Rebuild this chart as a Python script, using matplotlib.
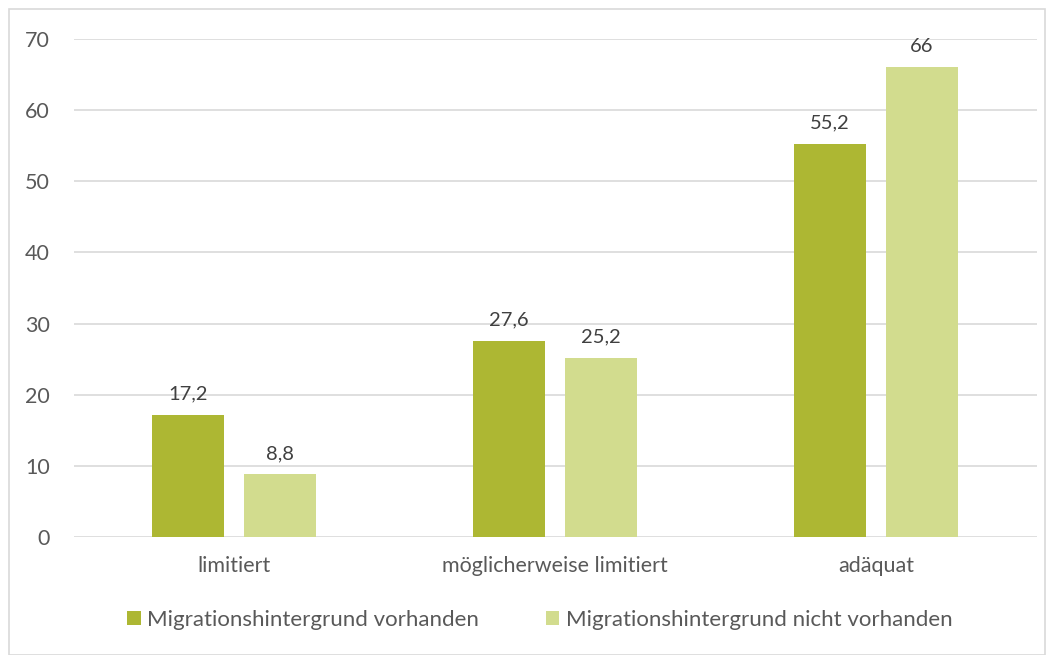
import matplotlib
matplotlib.use("Agg")
import matplotlib.pyplot as plt
import numpy as np
from matplotlib.patches import Rectangle

categories = ["limitiert", "möglicherweise limitiert", "adäquat"]
series_names = ["Migrationshintergrund vorhanden", "Migrationshintergrund nicht vorhanden"]
values_mit = [17.2, 27.6, 55.2]
values_ohne = [8.8, 25.2, 66.0]
yticks = [0, 10, 20, 30, 40, 50, 60, 70]

colors = ["#ADB733", "#D2DC8E"]
txt = "#595959"
plt.rcParams['font.family'] = ['Lato', 'DejaVu Sans']

fig = plt.figure(figsize=(10.53, 6.55), dpi=100)
fig.patches.append(Rectangle((9/1053, 0), 1036/1053, 1 - 9/655, transform=fig.transFigure,
                             fill=False, edgecolor="#D9D9D9", linewidth=1.2))
ax = fig.add_axes([73.5/1053, 1 - 537/655, 963/1053, 498/655])

x = np.arange(len(categories))
w = 0.224
off = 0.143
b1 = ax.bar(x - off, values_mit, w, color=colors[0], label=series_names[0], zorder=3)
b2 = ax.bar(x + off, values_ohne, w, color=colors[1], label=series_names[1], zorder=3)

def fmt(v):
    s = f"{v:.1f}".replace(".", ",")
    return s[:-2] if s.endswith(",0") else s

for bars, vals in ((b1, values_mit), (b2, values_ohne)):
    for r, v in zip(bars, vals):
        ax.annotate(fmt(v), (r.get_x() + r.get_width()/2, v), xytext=(0, 9),
                    textcoords="offset points", ha="center", va="bottom",
                    fontsize=14.5, color="#404040")

ax.set_xlim(-0.5, 2.5)
ax.set_ylim(0, 70)
ax.set_yticks(yticks)
ax.set_yticklabels([str(t) for t in yticks])
ax.set_xticks(x)
ax.set_xticklabels(categories)
ax.tick_params(axis="both", length=0, labelsize=15.5, labelcolor=txt)
ax.tick_params(axis="y", pad=17)
ax.tick_params(axis="x", pad=14)
ax.grid(axis="y", color="#D9D9D9", linewidth=1.2, zorder=0)
for s in ax.spines.values():
    s.set_visible(False)

leg = fig.legend(loc="center", bbox_to_anchor=(540/1053, 1 - 620/655), ncol=2, frameon=False,
                 fontsize=16, handlelength=0.6, handleheight=0.6, handletextpad=0.3,
                 columnspacing=3.0)
for t in leg.get_texts():
    t.set_color(txt)

fig.savefig("out.png", dpi=100)
